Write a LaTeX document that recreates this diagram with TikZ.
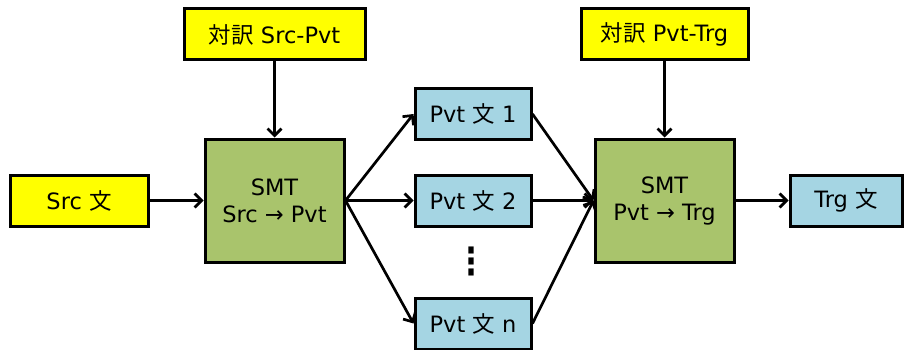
\documentclass[tikz,border=0pt]{standalone}
\usepackage{graphicx}
\usepackage{fontspec}
\setmainfont{DejaVu Sans}
\newfontfamily\cjk{Noto Sans CJK JP}
\usetikzlibrary{arrows.meta}
\definecolor{boxyellow}{HTML}{FFFF00}
\definecolor{boxgreen}{HTML}{A9C46C}
\definecolor{boxblue}{HTML}{A5D5E3}
\begin{document}
\begin{tikzpicture}[x=1pt,y=-1pt,
  font=\fontsize{22.5}{27}\selectfont,
  blockbox/.style={draw=black, line width=3pt, inner sep=0pt, align=center},
  corpus/.style={blockbox, fill=boxyellow},
  engine/.style={blockbox, fill=boxgreen, minimum width=139pt, minimum height=123pt},
  sentence/.style={blockbox, fill=boxblue, minimum height=51pt},
  flow/.style={line width=2.7pt, -{Straight Barb[length=7pt,width=14pt,line width=2.7pt]}}]
\useasboundingbox (0,0) rectangle (904,350);
% parallel corpora
\node[corpus, minimum width=181pt, minimum height=51pt] (cp1) at (274.5,34.5) {{\cjk 対訳} Src-Pvt};
\node[corpus, minimum width=167pt, minimum height=51pt] (cp2) at (664.5,34.5) {{\cjk 対訳} Pvt-Trg};
% source sentence
\node[corpus, minimum width=138pt, minimum height=51pt] (src) at (79,200.5) {Src {\cjk 文}};
% translation engines
\node[engine] (smt1) at (274.5,200.5) {SMT\\Src → Pvt};
\node[engine] (smt2) at (664.5,200.5) {SMT\\Pvt → Trg};
% pivot sentences
\node[sentence, minimum width=116pt] (p1) at (473,114) {Pvt {\cjk 文} 1};
\node[sentence, minimum width=116pt] (p2) at (473,200.5) {Pvt {\cjk 文} 2};
\node[sentence, minimum width=116pt] (pn) at (473,323.5) {Pvt {\cjk 文} n};
% vertical ellipsis between sentence 2 and sentence n
\node[font=\fontsize{30}{30}\selectfont\bfseries, inner sep=0pt] (dots) at (471,261) {\scalebox{1}[1.25]{⋮}};
% target sentence
\node[sentence, minimum width=112pt] (trg) at (846,200.5) {Trg {\cjk 文}};
% connections
\draw[flow] (cp1) -- (smt1);
\draw[flow] (cp2) -- (smt2);
\draw[flow] (src) -- (smt1);
\draw[flow] (smt1.east) -- (p1.west);
\draw[flow] (smt1.east) -- (p2.west);
\draw[flow] (smt1.east) -- (pn.west);
\draw[flow] (p1.east) -- (smt2.west);
\draw[flow] (p2.east) -- (smt2.west);
\draw[flow] (pn.east) -- (smt2.west);
\draw[flow] (smt2) -- (trg);
\end{tikzpicture}
\end{document}
